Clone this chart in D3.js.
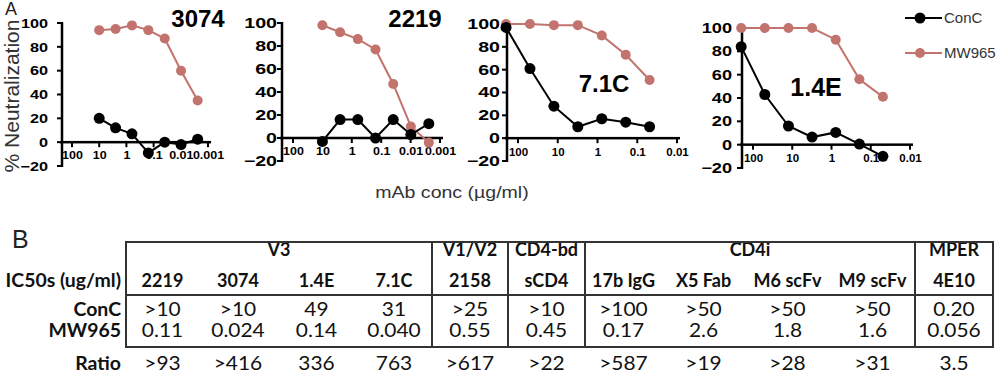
<!DOCTYPE html>
<html lang="en">
<head>
    <meta charset="UTF-8">
    <title>Neutralization curves</title>
    <script src="https://d3js.org/d3.v7.min.js"></script>
    <style>
        body { margin: 0; background: #fff; }
        svg { display: block; }
    </style>
</head>
<body>
<svg width="1002" height="378"></svg>
<script>
    // ---- panel A data (% neutralization) ----
    var concLow = [10, 2.5, 0.625, 0.156, 0.039, 0.0098, 0.0024];    // ug/ml, 3074 + 2219
    var concHigh = [200, 50, 12.5, 3.125, 0.78, 0.195, 0.049];       // ug/ml, 7.1C + 1.4E

    var conc3074 = [20, 12, 7, -9, 0, -2, 2.5];
    var mw3074 = [94, 95, 98, 94, 87, 60, 35];
    var conc2219 = [-3, 16, 16, 0, 16, 3, 12.5];
    var mw2219 = [98, 92, 86, 77, 47, 10, -4];
    var conc71C = [97, 61, 28, 10, 17, 14, 10];
    var mw71C = [100, 100, 99, 99, 90, 73, 51];
    var conc14E = [84, 43, 16, 6.5, 10.5, 0.5, -10];
    var mw14E = [100, 100, 100, 100, 90, 56, 41];

    var yTicks = [-20, 0, 20, 40, 60, 80, 100];
    var xTicksLong = [100, 10, 1, 0.1, 0.01, 0.001];
    var xLabelsLong = ["100", "10", "1", "0.1", "0.01", "0.001"];
    var xTicksShort = [100, 10, 1, 0.1, 0.01];
    var xLabelsShort = ["100", "10", "1", "0.1", "0.01"];

    // ---- panel B data ----
    var groupNames = ["V3", "V1/V2", "CD4-bd", "CD4i", "MPER"];
    var groupSpans = [4, 1, 1, 4, 1];
    var reagents = ["2219", "3074", "1.4E", "7.1C", "2158", "sCD4", "17b IgG", "X5 Fab", "M6 scFv", "M9 scFv", "4E10"];
    var ic50ConC = [">10", ">10", "49", "31", ">25", ">10", ">100", ">50", ">50", ">50", "0.20"];
    var ic50MW965 = ["0.11", "0.024", "0.14", "0.040", "0.55", "0.45", "0.17", "2.6", "1.8", "1.6", "0.056"];
    var ratios = [">93", ">416", "336", "763", ">617", ">22", ">587", ">19", ">28", ">31", "3.5"];
    var rowLabels = ["IC50s (ug/ml)", "ConC", "MW965", "Ratio"];

    var red = "#c2736d";
    var arial = "Liberation Sans, Arial, sans-serif";
    var lato = "Lato, Open Sans, sans-serif";
    var svg = d3.select("svg");

    // widen text horizontally around its anchor (the figure is a bit wide)
    function widen(sel, k) {
        sel.each(function () {
            var x0 = +(this.getAttribute("x") || 0);
            d3.select(this).attr("x", x0 / k).attr("transform", "scale(" + k + ",1)");
        });
    }

    // plain line segment, every attribute set on the element itself
    function seg(parent, x1, y1, x2, y2, color, w) {
        return parent.append("line")
            .attr("x1", x1).attr("y1", y1).attr("x2", x2).attr("y2", y2)
            .attr("stroke", color).attr("stroke-width", w);
    }

    // axis strokes as filled bars
    function bar(parent, x, y, w, h) {
        return parent.append("rect").attr("x", x).attr("y", y)
            .attr("width", w).attr("height", h).attr("fill", "#000");
    }

    var panels = [
        {name: "3074", conc: concLow, conC: conc3074, mw: mw3074, ticks: xTicksLong, labels: xLabelsLong,
            xd: [100, 0.001], xr: [72, 208], x0: 62, x1: 211, yr: [166, 23],
            yFont: 13, yPad: 10, yK: 1.25, xFont: 10, xK: 1.25, title: [198, 27, 24]},
        {name: "2219", conc: concLow, conC: conc2219, mw: mw2219, ticks: xTicksLong, labels: xLabelsLong,
            xd: [100, 0.001], xr: [293, 440], x0: 282, x1: 443, yr: [161, 23],
            yFont: 14, yPad: 1, yK: 1.4, xFont: 10, xK: 1.25, title: [415, 27, 24]},
        {name: "7.1C", conc: concHigh, conC: conc71C, mw: mw71C, ticks: xTicksShort, labels: xLabelsShort,
            xd: [100, 0.01], xr: [518, 677], x0: 507, x1: 680, yr: [161, 24],
            yFont: 14, yPad: 3, yK: 1.4, xFont: 11, xK: 1.05, title: [604, 92, 24]},
        {name: "1.4E", conc: concHigh, conC: conc14E, mw: mw14E, ticks: xTicksShort, labels: xLabelsShort,
            xd: [100, 0.01], xr: [753, 910], x0: 742, x1: 913, yr: [168, 28],
            yFont: 14, yPad: 6, yK: 1.3, xFont: 11, xK: 1.05, title: [816, 96, 25]}
    ];

    function styleAxisText(ax, size, k) {
        ax.selectAll("path, line").remove();
        ax.selectAll("text").attr("fill", "#000")
            .style("font-family", arial).style("font-weight", "bold").style("font-size", size + "px");
        widen(ax.selectAll("text"), k);
    }

    panels.forEach(function (p) {
        var x = d3.scaleLog().domain(p.xd).range(p.xr);
        var y = d3.scaleLinear().domain([-20, 100]).range(p.yr);
        var g = svg.append("g");

        // tick labels from d3 axes
        var yAx = g.append("g")
            .attr("transform", "translate(" + p.x0 + ",0)")
            .call(d3.axisLeft(y).tickValues(yTicks).tickSize(4).tickSizeOuter(0).tickPadding(p.yPad));
        styleAxisText(yAx, p.yFont, p.yK);

        var xAx = g.append("g")
            .attr("transform", "translate(0," + y(0) + ")")
            .call(d3.axisBottom(x).tickValues(p.ticks).tickSize(4).tickPadding(6)
                .tickFormat(function (d, i) { return p.labels[i]; }));
        styleAxisText(xAx, p.xFont, p.xK);

        // axis lines and ticks
        bar(g, p.x0 - 1.25, y(100) - 1, 2.5, y(-20) - y(100) + 2);
        bar(g, p.x0 - 2, y(0) - 1.25, p.x1 - p.x0 + 2, 2.5);
        yTicks.forEach(function (d) { bar(g, p.x0 - 5, y(d) - 1, 5, 2); });
        p.ticks.forEach(function (d) { bar(g, x(d) - 1, y(0), 2, 5); });

        var line = d3.line().x(function (d) { return x(d[0]); }).y(function (d) { return y(d[1]); });
        var series = [
            {vals: p.mw, color: red, r: 5},
            {vals: p.conC, color: "#000", r: 5.5}
        ];
        series.forEach(function (s) {
            var pts = p.conc.map(function (c, i) { return [c, s.vals[i]]; });
            g.append("path").datum(pts).attr("d", line)
                .attr("fill", "none").attr("stroke", s.color).attr("stroke-width", 2);
            g.selectAll(null).data(pts).enter().append("circle")
                .attr("cx", function (d) { return x(d[0]); })
                .attr("cy", function (d) { return y(d[1]); })
                .attr("r", s.r).attr("fill", s.color);
        });

        g.append("text").attr("x", p.title[0]).attr("y", p.title[1])
            .attr("text-anchor", "middle")
            .style("font-family", arial)
            .style("font-weight", "bold").style("font-size", p.title[2] + "px")
            .text(p.name);
    });

    // legend
    var legend = [{name: "ConC", color: "#000", r: 5.5, y: 18}, {name: "MW965", color: red, r: 5, y: 53}];
    legend.forEach(function (d) {
        seg(svg, 905, d.y, 942, d.y, d.color, 2);
        svg.append("circle").attr("cx", 920).attr("cy", d.y).attr("r", d.r).attr("fill", d.color);
        svg.append("text").attr("x", 944).attr("y", d.y + 5)
            .style("font-family", arial).style("font-size", "15px")
            .attr("fill", "#333").text(d.name);
    });

    // panel labels and axis titles
    svg.append("text").attr("x", 5).attr("y", 15)
        .style("font-family", arial).style("font-size", "18px")
        .attr("fill", "#222").text("A");
    svg.append("text").attr("transform", "translate(19,96) rotate(-90)")
        .attr("text-anchor", "middle")
        .style("font-family", arial).style("font-size", "21px")
        .attr("fill", "#333").text("% Neutralization");
    var xt = svg.append("text").attr("x", 452).attr("y", 198).attr("text-anchor", "middle")
        .style("font-family", arial).style("font-size", "17px")
        .attr("fill", "#333").text("mAb conc (\u00b5g/ml)");
    widen(xt, 1.15);

    // ---- table B ----
    svg.append("text").attr("x", 12).attr("y", 248)
        .style("font-family", arial).style("font-size", "25px")
        .attr("fill", "#222").text("B");

    var colEdges = [126, 199, 277, 356, 432, 508, 585, 662, 745, 830, 915, 993];
    var tbl = svg.append("g");
    var rowY = {group: 256, head: 287, conc: 316, mw: 337, ratio: 370};

    var ci = 0;
    var groupBounds = [colEdges[0]];
    groupNames.forEach(function (gname, i) {
        var left = colEdges[ci], right = colEdges[ci + groupSpans[i]];
        ci += groupSpans[i];
        groupBounds.push(right);
        tbl.append("text").attr("x", (left + right) / 2).attr("y", rowY.group)
            .attr("text-anchor", "middle").style("font-weight", "bold").style("font-size", "18px")
            .text(gname);
    });

    var rows = [
        {vals: reagents, y: rowY.head, bold: true},
        {vals: ic50ConC, y: rowY.conc, bold: false},
        {vals: ic50MW965, y: rowY.mw, bold: false},
        {vals: ratios, y: rowY.ratio, bold: false}
    ];
    rows.forEach(function (r) {
        var t = tbl.selectAll(null).data(r.vals).enter().append("text")
            .attr("x", function (d, i) { return (colEdges[i] + colEdges[i + 1]) / 2; })
            .attr("y", r.y).attr("text-anchor", "middle")
            .style("font-weight", r.bold ? "bold" : "normal")
            .style("font-size", r.bold ? "18px" : "19px")
            .text(function (d) { return d; });
        if (!r.bold) widen(t, 1.1);
    });

    var rl = tbl.selectAll(null).data(rowLabels).enter().append("text")
        .attr("x", 121).attr("text-anchor", "end")
        .attr("y", function (d, i) { return [rowY.head, rowY.conc, rowY.mw, rowY.ratio][i]; })
        .style("font-weight", "bold").style("font-size", "18px")
        .text(function (d) { return d; });
    widen(rl, 1.08);
    tbl.selectAll("text").attr("fill", "#111").style("font-family", lato);

    var yTop = 242, yMid = 295, yBot = 347;
    [yTop, yMid, yBot].forEach(function (yy) {
        seg(tbl, colEdges[0] - 1, yy, colEdges[colEdges.length - 1] + 1, yy, "#333", 2);
    });
    groupBounds.forEach(function (xx) {
        seg(tbl, xx, yTop, xx, yBot, "#333", 2);
    });
</script>
</body>
</html>
